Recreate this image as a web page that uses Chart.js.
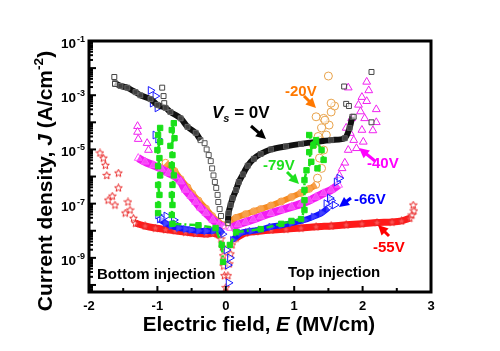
<!DOCTYPE html>
<html>
<head>
<meta charset="utf-8">
<script src="https://cdn.jsdelivr.net/npm/chart.js@4"></script>
<style>html,body{margin:0;padding:0;background:#fff}</style>
</head>
<body>
<canvas id="chart" width="500" height="351"></canvas>
<script>
// E in MV/cm, J in A/cm^2
// Vs = 0 V (black squares)
const vs0LeftE = [-1.62, -1.54, -1.44, -1.32, -1.25, -1.10, -1.00, -0.88, -0.81, -0.66, -0.56, -0.44, -0.37];
const vs0LeftJ = [2.8e-3, 2.2e-3, 1.9e-3, 1.3e-3, 1.0e-3, 7.2e-4, 4.4e-4, 3.4e-4, 2.4e-4, 1.4e-4, 6.8e-5, 4.1e-5, 2.2e-5];
const vs0DropE = [-0.31, -0.28, -0.25, -0.22, -0.20, -0.18, -0.16, -0.14, -0.12, -0.11, -0.09, -0.07];
const vs0DropJ = [1.7e-5, 1.0e-5, 6.2e-6, 3.7e-6, 2.0e-6, 1.1e-6, 6.3e-7, 3.8e-7, 2.1e-7, 1.15e-7, 6.3e-8, 3.5e-8];
const vs0RightE = [0.03, 0.04, 0.07, 0.10, 0.15, 0.19, 0.25, 0.32, 0.41, 0.51, 0.66, 0.88, 1.10, 1.32, 1.54, 1.74, 1.81, 1.85];
const vs0RightJ = [1.9e-8, 4.5e-8, 8.9e-8, 1.6e-7, 3.2e-7, 6.3e-7, 1.2e-6, 2.5e-6, 4.5e-6, 6.8e-6, 1.0e-5, 1.3e-5, 1.6e-5, 1.9e-5, 2.2e-5, 2.6e-5, 6.2e-5, 1.6e-4];
const vs0ScatterE = [-1.63, -1.62, -0.93, -0.91, -0.90, 1.73, 1.76, 1.80, 1.87, 2.13, 2.13];
const vs0ScatterJ = [4.7e-3, 2.6e-3, 1.9e-3, 9.3e-4, 5.1e-4, 2.1e-3, 4.8e-4, 4.0e-4, 1.6e-4, 1.0e-4, 7.2e-3];

// -20 V (orange circles)
const m20LeftE = [-0.88, -0.75, -0.66, -0.56, -0.49, -0.40, -0.29, -0.20, -0.12, -0.04];
const m20LeftJ = [3.2e-6, 1.6e-6, 8.0e-7, 4.0e-7, 2.3e-7, 1.3e-7, 6.5e-8, 3.5e-8, 2.3e-8, 1.6e-8];
const m20RightE = [0.04, 0.15, 0.29, 0.41, 0.51, 0.66, 0.81, 0.96, 1.10, 1.22, 1.32];
const m20RightJ = [2.1e-8, 3.0e-8, 4.1e-8, 5.2e-8, 6.3e-8, 8.5e-8, 1.2e-7, 1.75e-7, 2.5e-7, 3.5e-7, 4.9e-7];
const m20ScatterE = [1.34, 1.40, 1.37, 1.43, 1.37, 1.47, 1.40, 1.51, 1.43, 1.54, 1.59, 1.54, 1.32, 1.50, 1.35, 1.45, 1.28];
const m20ScatterJ = [8.7e-7, 2.0e-6, 4.8e-6, 9.5e-6, 2.2e-5, 3.4e-5, 6.2e-5, 7.9e-5, 1.4e-4, 2.4e-4, 4.0e-4, 5.1e-4, 1.6e-4, 5.1e-3, 3.0e-5, 1.2e-4, 1.5e-5];

// -40 V (magenta triangles)
const m40LeftE = [-1.28, -1.18, -1.06, -0.94, -0.84, -0.74, -0.66, -0.59, -0.51, -0.44, -0.37, -0.29, -0.19, -0.10, -0.04];
const m40LeftJ = [4.8e-6, 3.5e-6, 2.6e-6, 1.9e-6, 1.35e-6, 1.0e-6, 6.5e-7, 3.2e-7, 1.9e-7, 1.15e-7, 7.0e-8, 4.5e-8, 2.5e-8, 1.7e-8, 1.4e-8];
const m40RightE = [0.07, 0.18, 0.29, 0.40, 0.51, 0.66, 0.81, 0.96, 1.10, 1.22, 1.32, 1.43, 1.54, 1.65];
const m40RightJ = [1.26e-8, 1.7e-8, 2.1e-8, 2.6e-8, 3.3e-8, 4.4e-8, 5.8e-8, 7.6e-8, 9.8e-8, 1.3e-7, 1.75e-7, 2.4e-7, 3.2e-7, 4.9e-7];
const m40ScatterE = [-1.29, -1.29, -1.28, -1.15, -1.13, 1.66, 1.74, 1.79, 1.87, 1.76, 1.84, 1.94, 1.99, 2.09, 2.06, 1.79, 1.99, 2.01, 1.91, 2.03, 1.70, 1.82, 1.97, 2.06, 2.20, 2.20, 2.15];
const m40ScatterJ = [7.2e-5, 4.4e-5, 2.4e-5, 1.7e-5, 9.5e-6, 1.1e-6, 3.2e-6, 9.5e-6, 2.2e-5, 6.2e-5, 1.4e-4, 4.4e-4, 8.5e-4, 1.5e-3, 3.1e-3, 1.9e-3, 5.2e-5, 1.9e-5, 1.1e-5, 1.4e-4, 2.0e-6, 4.0e-5, 2.5e-4, 6.0e-4, 3.0e-4, 1.0e-4, 5.0e-5];

// -55 V (red stars)
const m55LeftE = [-1.32, -1.18, -1.03, -0.88, -0.74, -0.59, -0.44, -0.29, -0.19, -0.10];
const m55LeftJ = [1.9e-8, 1.5e-8, 1.26e-8, 1.1e-8, 1.0e-8, 8.9e-9, 8.0e-9, 7.6e-9, 8.0e-9, 7.0e-9];
const m55RightE = [0.15, 0.29, 0.44, 0.66, 0.88, 1.10, 1.32, 1.54, 1.76, 1.99, 2.21, 2.43, 2.57, 2.69];
const m55RightJ = [5.4e-9, 8.3e-9, 9.3e-9, 1.07e-8, 1.15e-8, 1.26e-8, 1.4e-8, 1.5e-8, 1.65e-8, 1.8e-8, 2.0e-8, 2.1e-8, 2.3e-8, 2.9e-8];
const m55ScatterE = [-1.84, -1.79, -1.76, -1.74, -1.57, -1.57, -1.72, -1.66, -1.62, -1.43, -1.47, -1.40, -1.35,
  -0.07, -0.05, -0.04, -0.03, -0.02, 0.00, 0.03, 0.05, 0.07, 0.09, 0.12, 2.75, 2.74, 2.72];
const m55ScatterJ = [7.4e-6, 4.8e-6, 2.6e-6, 1.1e-6, 1.35e-6, 3.8e-7, 1.35e-7, 1.9e-7, 8.9e-8, 1.15e-7, 4.5e-8, 5.8e-8, 2.9e-8,
  5.0e-9, 2.5e-9, 1.2e-9, 5.0e-10, 2.2e-10, 8.0e-11, 2.2e-10, 6.0e-10, 1.4e-9, 3.0e-9, 5.0e-9, 5.4e-8, 8.9e-8, 3.8e-8];

// -66 V (blue right triangles)
const m66LeftE = [-0.97, -0.88, -0.80, -0.69, -0.59, -0.51, -0.40, -0.29, -0.18, -0.10, -0.04];
const m66LeftJ = [2.6e-8, 1.9e-8, 1.5e-8, 1.26e-8, 1.15e-8, 1.07e-8, 1.0e-8, 9.8e-9, 1.0e-8, 1.07e-8, 7.5e-9];
const m66RightE = [0.10, 0.22, 0.37, 0.51, 0.66, 0.81, 0.96, 1.15, 1.28, 1.40, 1.50];
const m66RightJ = [4.6e-9, 8.3e-9, 9.8e-9, 1.1e-8, 1.4e-8, 1.6e-8, 1.9e-8, 2.5e-8, 3.3e-8, 4.5e-8, 7.0e-8];
const m66ScatterE = [-1.10, -1.03, -1.07, -1.00, -1.03, -0.99, -0.99, -0.93, -0.87, -0.76, -0.74, 0.01, 0.03, 0.04, 0.06, 1.47, 1.54, 1.59, 1.52, 1.62, 1.66];
const m66ScatterJ = [1.5e-3, 9.3e-4, 5.1e-4, 3.4e-4, 3.4e-5, 2.4e-5, 3.8e-8, 2.8e-8, 3.5e-8, 2.5e-8, 1.8e-8, 1.95e-9, 5.4e-10, 1.2e-10, 1.0e-9, 1.0e-7, 1.3e-7, 8.9e-8, 1.6e-7, 6.3e-7, 8.7e-7];

// -79 V (green filled squares, dash-dot)
const m79Col1E = [-0.96, -0.99, -0.96, -1.00, -0.97, -0.99, -0.96, -0.99, -0.97, -0.99, -0.99];
const m79Col1J = [6.2e-5, 3.4e-5, 1.9e-5, 9.5e-6, 4.8e-6, 2.4e-6, 1.1e-6, 4.9e-7, 2.1e-7, 8.9e-8, 4.5e-8];
const m79Col2E = [-0.76, -0.79, -0.75, -0.81, -0.78, -0.79, -0.76, -0.78, -0.79, -0.78, -0.79, -0.78, -0.40, -0.15, -0.06, -0.04];
const m79Col2J = [9.3e-5, 5.2e-5, 2.6e-5, 1.35e-5, 6.2e-6, 2.6e-6, 1.1e-6, 4.9e-7, 2.1e-7, 8.9e-8, 3.8e-8, 1.8e-8, 1.6e-8, 1.26e-8, 3.0e-9, 7.1e-10];
const m79RightE = [0.06, 0.15, 0.51, 0.81, 0.96, 1.10, 1.15, 1.15, 1.15, 1.15, 1.18, 1.25, 1.22, 1.28, 1.22, 1.32, 1.40, 1.43, 1.34];
const m79RightJ = [3.0e-9, 8.9e-9, 1.15e-8, 1.8e-8, 2.3e-8, 2.7e-8, 5.8e-8, 1.35e-7, 3.2e-7, 7.4e-7, 1.7e-6, 3.5e-6, 7.9e-6, 1.4e-5, 3.4e-5, 2.2e-5, 9.5e-6, 4.1e-6, 2.0e-6];

const xTickLabels = [-2, -1, 0, 1, 2, 3];
const yTickExps = [-1, -3, -5, -7, -9];

const FONT = "Arial, 'Liberation Sans', Helvetica, sans-serif";

function pts(e, j) {
  return e.map((x, i) => ({ x: x, y: j[i] }));
}

function starImage(color) {
  const c = document.createElement('canvas');
  c.width = c.height = 9;
  const g = c.getContext('2d');
  g.beginPath();
  for (let i = 0; i < 10; i++) {
    const a = -Math.PI / 2 + i * Math.PI / 5;
    const r = i % 2 ? 1.8 : 4;
    g.lineTo(4.5 + r * Math.cos(a), 4.7 + r * Math.sin(a));
  }
  g.closePath();
  g.fillStyle = 'rgba(255,255,255,0.25)';
  g.fill();
  g.strokeStyle = color;
  g.lineWidth = 1;
  g.stroke();
  return c;
}

function band(e, j, color, width, style, r, extra) {
  return Object.assign({
    data: pts(e, j), showLine: true, borderColor: color, borderWidth: width, tension: 0.25,
    pointStyle: style, pointRadius: r, pointBorderColor: color, pointBorderWidth: 1,
    pointBackgroundColor: 'rgba(255,255,255,0.2)'
  }, extra || {});
}

function dots(e, j, color, style, r, extra) {
  return Object.assign({
    data: pts(e, j), showLine: false, pointStyle: style, pointRadius: r,
    pointBorderColor: color, pointBorderWidth: 1, pointBackgroundColor: 'rgba(255,255,255,0.6)'
  }, extra || {});
}

const redStar = starImage('#e82828');
const GREEN = '#19e019';
const greenOpts = { borderDash: [7, 3, 2, 3], tension: 0, pointBackgroundColor: GREEN, pointBorderColor: GREEN };

const datasets = [
  band(m79Col1E, m79Col1J, GREEN, 2.5, 'rect', 3.8, greenOpts),
  band(m79Col2E, m79Col2J, GREEN, 2.5, 'rect', 3.8, greenOpts),
  band(m79RightE, m79RightJ, GREEN, 2.5, 'rect', 3.8, greenOpts),
  dots(vs0ScatterE, vs0ScatterJ, '#444', 'rect', 3.5),
  band(vs0LeftE, vs0LeftJ, '#111', 6, 'rect', 3.5, { pointBorderColor: '#666' }),
  dots(vs0DropE, vs0DropJ, '#555', 'rect', 3.5),
  band(vs0RightE, vs0RightJ, '#111', 6, 'rect', 3.5, { pointBorderColor: '#555' }),
  dots(m66ScatterE, m66ScatterJ, '#1a1aff', 'triangle', 4.5, { pointRotation: 90 }),
  band(m66LeftE, m66LeftJ, '#1515ff', 6, 'triangle', 4, { pointRotation: 90, pointBorderColor: '#3535ff' }),
  band(m66RightE, m66RightJ, '#1515ff', 6, 'triangle', 4, { pointRotation: 90, pointBorderColor: '#3535ff' }),
  dots(m40ScatterE, m40ScatterJ, '#f020f0', 'triangle', 4.5),
  band(m40LeftE, m40LeftJ, '#f21df2', 8, 'triangle', 4.5, { pointBorderColor: '#ff55ff' }),
  band(m40RightE, m40RightJ, '#f21df2', 8, 'triangle', 4.5, { pointBorderColor: '#ff55ff' }),
  dots(m55ScatterE, m55ScatterJ, '#e82828', redStar, 4.5),
  band(m55LeftE, m55LeftJ, '#ff1a1a', 7, redStar, 4.5),
  band(m55RightE, m55RightJ, '#ff1a1a', 7, redStar, 4.5),
  dots(m20ScatterE, m20ScatterJ, '#e8a24a', 'circle', 4),
  band(m20LeftE, m20LeftJ, '#f58a1f', 6, 'circle', 3.5, { pointBorderColor: '#f79a40' }),
  band(m20RightE, m20RightJ, '#f58a1f', 6, 'circle', 3.5, { pointBorderColor: '#f79a40' })
];

function arrow(ctx, x1, y1, x2, y2, color) {
  const a = Math.atan2(y2 - y1, x2 - x1);
  ctx.strokeStyle = color;
  ctx.fillStyle = color;
  ctx.lineWidth = 3;
  ctx.beginPath();
  ctx.moveTo(x1, y1);
  ctx.lineTo(x2 - 6 * Math.cos(a), y2 - 6 * Math.sin(a));
  ctx.stroke();
  ctx.beginPath();
  ctx.moveTo(x2, y2);
  ctx.lineTo(x2 - 10 * Math.cos(a) + 5 * Math.sin(a), y2 - 10 * Math.sin(a) - 5 * Math.cos(a));
  ctx.lineTo(x2 - 10 * Math.cos(a) - 5 * Math.sin(a), y2 - 10 * Math.sin(a) + 5 * Math.cos(a));
  ctx.closePath();
  ctx.fill();
}

// draws rich text parts [{t, italic, sup, sub}] starting at x
function richText(ctx, parts, x, y, size) {
  for (const p of parts) {
    const s = (p.sup || p.sub) ? size * 0.65 : size;
    ctx.font = (p.italic ? 'italic ' : '') + 'bold ' + s + 'px ' + FONT;
    const dy = p.sup ? -size * 0.45 : p.sub ? size * 0.25 : 0;
    ctx.fillText(p.t, x, y + dy);
    x += ctx.measureText(p.t).width;
  }
  return x;
}

function richWidth(ctx, parts, size) {
  let w = 0;
  for (const p of parts) {
    const s = (p.sup || p.sub) ? size * 0.65 : size;
    ctx.font = (p.italic ? 'italic ' : '') + 'bold ' + s + 'px ' + FONT;
    w += ctx.measureText(p.t).width;
  }
  return w;
}

const decorations = {
  id: 'decorations',
  afterDatasetsDraw(chart) {
    const { ctx, chartArea: a, scales: { x, y } } = chart;
    ctx.save();
    ctx.strokeStyle = '#000';
    ctx.fillStyle = '#000';
    ctx.lineWidth = 3;
    ctx.strokeRect(a.left, a.top, a.right - a.left, a.bottom - a.top);

    // inward ticks, x
    ctx.lineWidth = 2;
    for (let v = -2; v <= 3.001; v += 0.5) {
      const px = x.getPixelForValue(v);
      const len = Number.isInteger(v) ? 6 : 4;
      ctx.beginPath(); ctx.moveTo(px, a.bottom); ctx.lineTo(px, a.bottom - len); ctx.stroke();
    }
    // inward ticks, y (log minors)
    for (let e = -11; e <= -1; e++) {
      for (let m = 1; m <= 9; m++) {
        const v = m * Math.pow(10, e);
        if (v < y.min || v > y.max * 1.0001) continue;
        const py = y.getPixelForValue(v);
        const len = m === 1 ? 7 : 4;
        ctx.beginPath(); ctx.moveTo(a.left, py); ctx.lineTo(a.left + len, py); ctx.stroke();
      }
    }
    // x tick labels
    ctx.textBaseline = 'alphabetic';
    ctx.textAlign = 'center';
    ctx.font = 'bold 13px ' + FONT;
    for (const v of xTickLabels) {
      ctx.fillText(String(v), x.getPixelForValue(v), 310);
    }
    // y tick labels 10^n
    for (const e of yTickExps) {
      const py = y.getPixelForValue(Math.pow(10, e));
      ctx.textAlign = 'right';
      ctx.font = 'bold 13.5px ' + FONT;
      ctx.fillText('10', 76, py + 7);
      ctx.textAlign = 'left';
      ctx.font = 'bold 9px ' + FONT;
      ctx.fillText(String(e), 77, py + 1);
    }

    // axis titles
    ctx.textAlign = 'left';
    const xt = [{ t: 'Electric field, ' }, { t: 'E', italic: true }, { t: ' (MV/cm)' }];
    const xw = richWidth(ctx, xt, 20.5);
    richText(ctx, xt, 259 - xw / 2, 331, 20.5);

    const yt = [{ t: 'Current density, ' }, { t: 'J', italic: true }, { t: ' (A/cm' }, { t: '-2', sup: true }, { t: ')' }];
    ctx.save();
    ctx.translate(52, 181);
    ctx.rotate(-Math.PI / 2);
    const yw = richWidth(ctx, yt, 21);
    richText(ctx, yt, -yw / 2, 0, 21);
    ctx.restore();

    // annotations
    ctx.fillStyle = '#000';
    richText(ctx, [{ t: 'V', italic: true }, { t: 's', italic: true, sub: true }, { t: ' = 0V' }], 212, 118, 17);
    arrow(ctx, 251, 126, 266, 139, '#000');

    ctx.font = 'bold 15px ' + FONT;
    ctx.fillStyle = '#ff7800'; ctx.fillText('-20V', 285, 96);
    arrow(ctx, 304, 96, 316, 108, '#ff7800');
    ctx.fillStyle = '#1ee01e'; ctx.fillText('-79V', 263, 170);
    arrow(ctx, 287, 172, 299, 184, '#1ee01e');
    ctx.fillStyle = '#ff00ff'; ctx.fillText('-40V', 367, 168);
    arrow(ctx, 375, 161, 359, 148, '#ff00ff');
    ctx.fillStyle = '#0000ff'; ctx.fillText('-66V', 354, 204);
    arrow(ctx, 351, 198, 339, 207, '#0000ff');
    ctx.fillStyle = '#ff0000'; ctx.fillText('-55V', 373, 252);
    arrow(ctx, 389, 236, 378, 225, '#ff0000');

    ctx.fillStyle = '#000';
    ctx.fillText('Bottom injection', 97, 279);
    ctx.fillText('Top injection', 288, 277);
    ctx.restore();
  }
};

new Chart(document.getElementById('chart'), {
  type: 'scatter',
  data: { datasets: datasets },
  options: {
    responsive: false,
    animation: false,
    devicePixelRatio: 1,
    layout: { padding: { top: 41, right: 69, left: 0, bottom: 0 } },
    plugins: { legend: { display: false }, tooltip: { enabled: false } },
    scales: {
      x: {
        type: 'linear', min: -2, max: 3,
        grid: { display: false }, border: { display: false },
        ticks: { display: false },
        afterFit(s) { s.height = 59; }
      },
      y: {
        type: 'logarithmic', min: 5.5e-11, max: 0.1,
        grid: { display: false }, border: { display: false },
        ticks: { display: false },
        afterFit(s) { s.width = 89; }
      }
    }
  },
  plugins: [decorations]
});
</script>
</body>
</html>
